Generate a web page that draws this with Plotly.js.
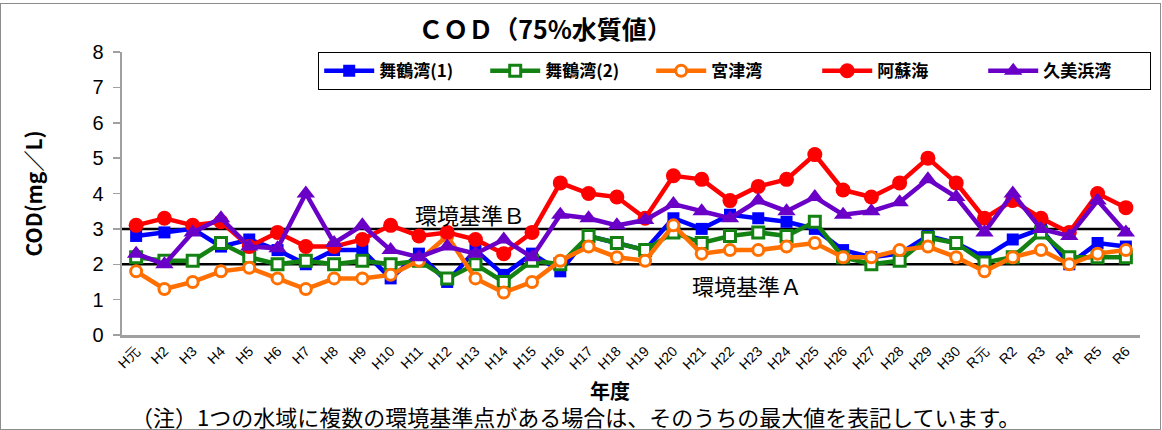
<!DOCTYPE html>
<html><head><meta charset="utf-8">
<script src="https://cdn.plot.ly/plotly-3.0.1.min.js"></script>
<style>
html,body{margin:0;padding:0;background:#fff;}
#wrap{position:absolute;left:0;top:3px;width:1159px;height:425px;border:1px solid #8c8c8c;}
#chart{position:absolute;left:0;top:0;width:1162px;height:430px;}
</style></head>
<body>
<div id="wrap"></div>
<div id="chart"></div>
<script>
const years = ["H元","H2","H3","H4","H5","H6","H7","H8","H9","H10","H11","H12","H13","H14","H15","H16","H17","H18","H19","H20","H21","H22","H23","H24","H25","H26","H27","H28","H29","H30","R元","R2","R3","R4","R5","R6"];
const maizuru1 = [2.8,2.9,3.0,2.5,2.7,2.4,2.0,2.4,2.4,1.6,2.3,1.5,2.4,1.7,2.3,1.8,2.8,2.6,2.4,3.3,3.0,3.4,3.3,3.2,3.0,2.4,2.2,2.3,2.8,2.6,2.2,2.7,3.0,2.0,2.6,2.5];
const maizuru2 = [2.2,2.1,2.1,2.6,2.2,2.0,2.1,2.0,2.1,2.0,2.1,1.6,2.0,1.5,2.1,2.0,2.8,2.6,2.4,2.9,2.6,2.8,2.9,2.8,3.2,2.2,2.0,2.1,2.75,2.6,2.05,2.2,2.9,2.2,2.2,2.2];
const miyazu = [1.8,1.3,1.5,1.8,1.9,1.6,1.3,1.6,1.6,1.7,2.1,2.8,1.6,1.2,1.5,2.1,2.5,2.2,2.1,3.1,2.3,2.4,2.4,2.5,2.6,2.2,2.2,2.4,2.5,2.2,1.8,2.2,2.4,2.0,2.3,2.4];
const asokai = [3.1,3.3,3.1,3.2,2.5,2.9,2.5,2.5,2.7,3.1,2.8,2.9,2.7,2.3,2.9,4.3,4.0,3.9,3.3,4.5,4.4,3.8,4.2,4.4,5.1,4.1,3.9,4.3,5.0,4.3,3.3,3.8,3.3,2.9,4.0,3.6];
const kumihama = [2.3,2.0,2.9,3.3,2.5,2.45,4.0,2.6,3.1,2.4,2.2,2.5,2.3,2.7,2.2,3.4,3.3,3.1,3.25,3.7,3.5,3.3,3.8,3.5,3.9,3.4,3.5,3.75,4.4,3.9,2.9,4.0,3.0,2.8,3.8,2.9];
const seriesNames = ["舞鶴湾(1)","舞鶴湾(2)","宮津湾","阿蘇海","久美浜湾"];
const standards = [2, 3];
const standardLabels = ["環境基準Ａ","環境基準Ｂ"];

const jp = '"Noto Sans CJK JP", "Noto Sans", sans-serif';
const lat = '"Liberation Sans", Arial, sans-serif';

function tr(name, y, color, symbol, size, fill){
  return {
    type:'scatter', mode:'lines+markers', name:name, x:years, y:y,
    line:{color:color, width:4.5},
    marker:{symbol:symbol, size:size, color:fill||color, line:{color:color, width:fill?3:0}},
    cliponaxis:false
  };
}
const data = [
  tr(seriesNames[0], maizuru1, '#0000FF', 'square', 12),
  tr(seriesNames[1], maizuru2, '#138213', 'square', 11, '#FFFFFF'),
  tr(seriesNames[2], miyazu, '#FF7000', 'circle', 11, '#FFFFFF'),
  tr(seriesNames[3], asokai, '#FF0000', 'circle', 15),
  tr(seriesNames[4], kumihama, '#6A00C8', 'triangle-up', 16)
];

const shapes = standards.map(v => ({type:'line', xref:'paper', yref:'y', x0:0, x1:0.99, y0:v, y1:v, line:{color:'#000', width:2.5}, layer:'below'}));

const layout = {
  width:1162, height:430,
  margin:{l:122, r:22, t:52, b:95, autoexpand:false},
  paper_bgcolor:'rgba(0,0,0,0)', plot_bgcolor:'rgba(0,0,0,0)',
  showlegend:true,
  title:{text:'<b>ＣＯＤ（75%水質値）</b>', xref:'container', x:545/1162, xanchor:'center', y:0.93, yanchor:'middle', font:{family:jp, size:25, color:'#000'}},
  xaxis:{type:'category', range:[-0.5,35.5], tickangle:-45, tickfont:{family:lat, size:14, color:'#000'},
    showline:true, linecolor:'#a0a0a0', linewidth:2.5, ticks:'', showgrid:false, zeroline:false},
  yaxis:{range:[0,8], dtick:1, tickfont:{family:lat, size:20, color:'#000'},
    showline:true, linecolor:'#a0a0a0', linewidth:2.5, ticks:'outside', ticklen:7, tickwidth:1.5, tickcolor:'#a0a0a0',
    ticklabelstandoff:5, showgrid:false, zeroline:false,
    title:{text:'<b>COD(mg／L)</b>', font:{family:jp, size:21, color:'#000'}, standoff:44}},
  legend:{orientation:'h', x:(318-122)/1018, xanchor:'left', y:(335-52)/283, yanchor:'top',
    bgcolor:'#fff', bordercolor:'#000', borderwidth:1.2,
    font:{family:jp, size:17, color:'#000', weight:'bold'},
    itemwidth:50, entrywidth:101, entrywidthmode:'pixels', tracegroupgap:0, itemclick:false},
  shapes:shapes,
  annotations:[
    {xref:'x', yref:'y', x:11.8, y:3.42, text:standardLabels[1], showarrow:false, font:{family:jp, size:22, color:'#000'}},
    {xref:'x', yref:'y', x:21.6, y:1.41, text:standardLabels[0], showarrow:false, font:{family:jp, size:22, color:'#000'}},
    {xref:'paper', yref:'paper', x:(610-122)/1018, y:-(390-335)/283, text:'<b>年度</b>', showarrow:false, font:{family:jp, size:20, color:'#000'}, yanchor:'middle'},
    {xref:'paper', yref:'paper', x:(575-122)/1018, y:-(416-335)/283, text:'（注）1つの水域に複数の環境基準点がある場合は、そのうちの最大値を表記しています。', showarrow:false, font:{family:jp, size:22, color:'#000'}, yanchor:'middle'}
  ]
};
Plotly.newPlot('chart', data, layout, {displayModeBar:false, staticPlot:true});
</script>
</body></html>
